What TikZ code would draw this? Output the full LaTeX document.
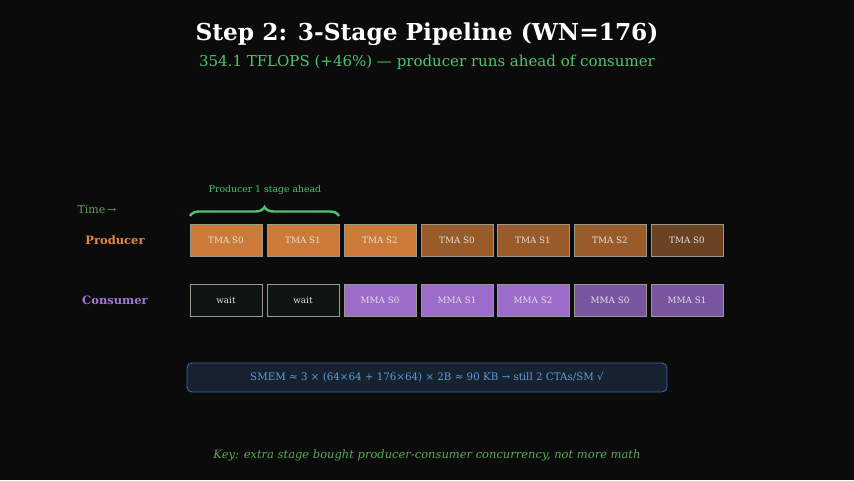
\documentclass[tikz,border=0pt]{standalone}
\usepackage{fontspec}
\setmainfont{DejaVu Serif}
\usetikzlibrary{decorations.pathreplacing}
\definecolor{bg}{HTML}{0B0B0B}
\definecolor{prodA}{HTML}{CC7A38}
\definecolor{prodB}{HTML}{9A5B2B}
\definecolor{prodC}{HTML}{6B4222}
\definecolor{consA}{HTML}{9C6CCB}
\definecolor{consB}{HTML}{7A559F}
\definecolor{waitc}{HTML}{0F1512}
\definecolor{edge}{HTML}{999990}
\definecolor{green}{HTML}{4CC46E}
\definecolor{keygreen}{HTML}{5AAA50}
\definecolor{smemfill}{HTML}{172231}
\definecolor{smemedge}{HTML}{3C679A}
\definecolor{smemtext}{HTML}{5E9BDB}
\definecolor{prodlabel}{HTML}{E8883A}
\definecolor{conslabel}{HTML}{A276D8}
\tikzset{
  cell/.style={draw=edge, line width=0.9pt, minimum width=72pt, minimum height=32pt, inner sep=0pt, font=\fontsize{8.8}{10}\selectfont, text=white!88!black},
  rowlabel/.style={font=\bfseries\fontsize{11.5}{13}\selectfont},
}
\begin{document}
\begin{tikzpicture}[x=1pt,y=-1pt]
\fill[bg] (0,0) rectangle (854,480);
\useasboundingbox (0,0) rectangle (854,480);
\node[font=\bfseries\fontsize{23.3}{26}\selectfont, text=white] (title) at (427,34) {Step 2: 3-Stage Pipeline (WN=176)};
\node[font=\fontsize{15}{17}\selectfont, text=green] (sub) at (427,62) {354.1 TFLOPS (+46\%) — producer runs ahead of consumer};
\node[font=\fontsize{11}{13}\selectfont, text=keygreen] (time) at (97,210) {Time\,→};
\node[rowlabel, text=prodlabel] (plab) at (115,240) {Producer};
\node[rowlabel, text=conslabel] (clab) at (115,300) {Consumer};
% producer row
\node[cell, fill=prodA] (p1) at (226,240) {TMA S0};
\node[cell, fill=prodA] (p2) at (303,240) {TMA S1};
\node[cell, fill=prodA] (p3) at (380,240) {TMA S2};
\node[cell, fill=prodB] (p4) at (457,240) {TMA S0};
\node[cell, fill=prodB] (p5) at (533,240) {TMA S1};
\node[cell, fill=prodB] (p6) at (610,240) {TMA S2};
\node[cell, fill=prodC] (p7) at (687,240) {TMA S0};
% consumer row
\node[cell, fill=waitc] (c1) at (226,300) {wait};
\node[cell, fill=waitc] (c2) at (303,300) {wait};
\node[cell, fill=consA] (c3) at (380,300) {MMA S0};
\node[cell, fill=consA] (c4) at (457,300) {MMA S1};
\node[cell, fill=consA] (c5) at (533,300) {MMA S2};
\node[cell, fill=consB] (c6) at (610,300) {MMA S0};
\node[cell, fill=consB] (c7) at (687,300) {MMA S1};
% brace
\coordinate (bl) at (190,216);
\coordinate (br) at (339,216);
\draw[green, line width=2.4pt, decoration={brace, amplitude=9pt}, decorate] (bl) -- (br);
\node[font=\fontsize{9.3}{11}\selectfont, text=green] (blab) at (265,190) {Producer 1 stage ahead};
% smem
\node[draw=smemedge, fill=smemfill, rounded corners=5pt, line width=0.9pt, minimum width=480pt, minimum height=29pt, text=smemtext, font=\fontsize{10.3}{12}\selectfont] (smem) at (427,377.5) {SMEM ≈ 3 × (64×64 + 176×64) × 2B ≈ 90 KB → still 2 CTAs/SM √};
\node[font=\itshape\fontsize{11.5}{13}\selectfont, text=keygreen] (key) at (427,455) {Key: extra stage bought producer-consumer concurrency, not more math};
\end{tikzpicture}
\end{document}
